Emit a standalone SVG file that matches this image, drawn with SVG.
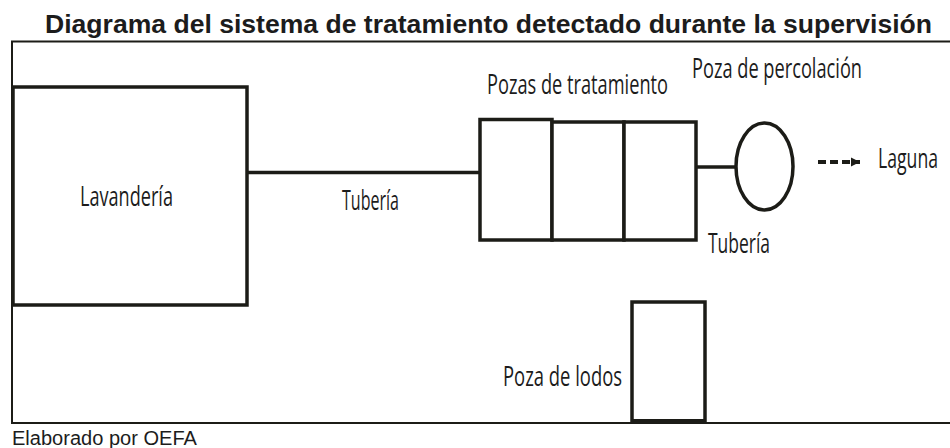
<svg xmlns="http://www.w3.org/2000/svg" width="950" height="448" viewBox="0 0 950 448">
<defs>
<style>
.box{fill:#fff;stroke:#1c1c17;stroke-width:3.5}
.ln{fill:none;stroke:#1c1c17;stroke-width:3.5}
.lbl{font-family:"Open Sans","Noto Sans",sans-serif;font-size:28px;fill:#1c1c1c}
.ttl{font-family:"Liberation Sans",Arial,sans-serif;font-weight:bold;font-size:25px;fill:#1c1c1c}
.src{font-family:"Liberation Sans",Arial,sans-serif;font-size:20px;fill:#1c1c1c}
</style>
<marker id="ah" viewBox="0 0 10 10" refX="10" refY="5" markerWidth="2.4" markerHeight="2.6" markerUnits="strokeWidth" orient="auto">
<path d="M0,0 L10,5 L0,10 Z" fill="#1c1c17"/>
</marker>
</defs>
<rect width="950" height="448" fill="#fff"/>
<text class="ttl" x="45" y="33" textLength="887" lengthAdjust="spacingAndGlyphs">Diagrama del sistema de tratamiento detectado durante la supervisión</text>
<path d="M955 41.5 H12 V423 H955" fill="none" stroke="#1c1c17" stroke-width="2"/>
<g id="connectors">
<line class="ln" x1="247" y1="172.5" x2="480" y2="172.5"/>
<line class="ln" x1="696" y1="167" x2="736" y2="167"/>
<line x1="818" y1="162" x2="860" y2="162" stroke="#1c1c17" stroke-width="3.8" stroke-dasharray="8,4" marker-end="url(#ah)"/>
</g>
<g id="lavanderia">
<rect class="box" x="13" y="87" width="234" height="218"/>
<text class="lbl" x="80" y="206" textLength="93" lengthAdjust="spacingAndGlyphs">Lavandería</text>
</g>
<g id="tuberia1">
<text class="lbl" x="342" y="210" textLength="57" lengthAdjust="spacingAndGlyphs">Tubería</text>
</g>
<g id="pozas-tratamiento">
<rect class="box" x="480" y="119.5" width="72" height="120.5"/>
<rect class="box" x="552" y="122" width="72" height="118"/>
<rect class="box" x="624" y="122" width="72" height="118"/>
<text class="lbl" x="487" y="94" textLength="181" lengthAdjust="spacingAndGlyphs">Pozas de tratamiento</text>
</g>
<g id="poza-percolacion">
<ellipse class="box" cx="764.5" cy="166.5" rx="28.5" ry="43.5" stroke-width="3"/>
<text class="lbl" x="692" y="78" textLength="170" lengthAdjust="spacingAndGlyphs">Poza de percolación</text>
</g>
<g id="tuberia2">
<text class="lbl" x="708" y="253" textLength="62" lengthAdjust="spacingAndGlyphs">Tubería</text>
</g>
<g id="laguna">
<text class="lbl" x="878" y="168" textLength="60" lengthAdjust="spacingAndGlyphs">Laguna</text>
</g>
<g id="poza-lodos">
<rect class="box" x="632" y="302" width="73" height="119"/>
<line x1="632" y1="421" x2="705" y2="421" stroke="#1c1c17" stroke-width="4"/>
<text class="lbl" x="503" y="386" textLength="119" lengthAdjust="spacingAndGlyphs">Poza de lodos</text>
</g>
<text class="src" x="12" y="445" textLength="185" lengthAdjust="spacingAndGlyphs">Elaborado por OEFA</text>
</svg>
